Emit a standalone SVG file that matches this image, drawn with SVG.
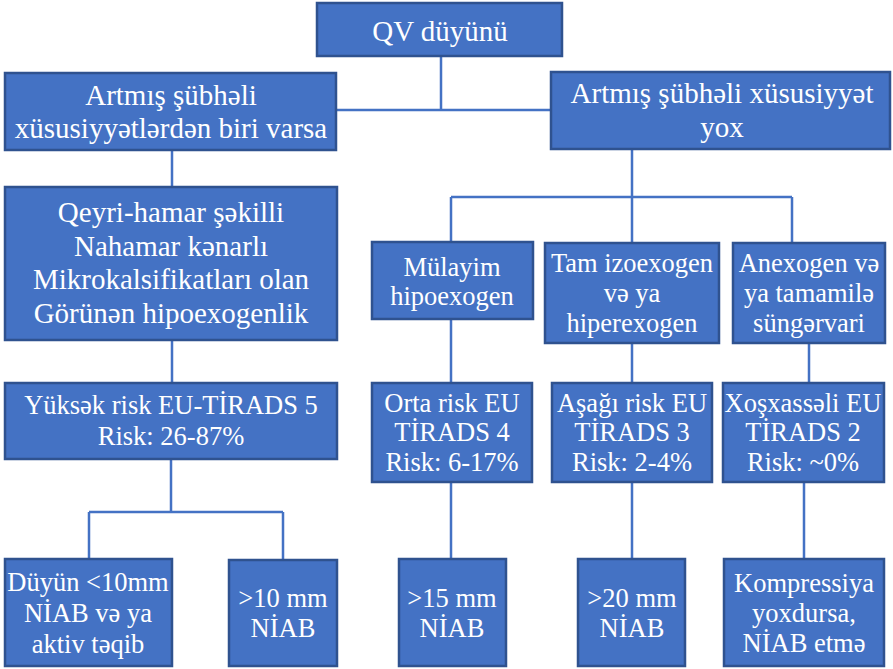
<svg xmlns="http://www.w3.org/2000/svg" width="893" height="669" viewBox="0 0 893 669">
<style>
.box{fill:#4472C4;stroke:#2F528F;stroke-width:2.5}
.t{font-family:"Liberation Serif","Times New Roman",serif;fill:#FFFFFF;text-anchor:middle;font-size:26.5px}
.big{font-size:29px}
.c{fill:none;stroke:#4472C4;stroke-width:2.5}
</style>
<rect width="893" height="669" fill="#FFFFFF"/>
<g id="connectors">
<path class="c" d="M441 56V110M336 110H551"/>
<path class="c" d="M172 150V187M172 340V383"/>
<path class="c" d="M171 459V512M89 512H283M89 512V559M283 512V559"/>
<path class="c" d="M632 149V197M451 197H792M451 197V243M632 197V243M792 197V243"/>
<path class="c" d="M451 319V383M632 343V383M809 343V383"/>
<path class="c" d="M451 482V559M632 482V559M804 482V559"/>
</g>
<g id="n-qv"><rect class="box" x="317" y="3" width="245" height="53"/><text class="t big" x="440" y="41">QV düyünü</text></g>
<g id="n-left"><rect class="box" x="5" y="73" width="331" height="77"/><text class="t big" x="171" y="105">Artmış şübhəli</text><text class="t big" x="171" y="138">xüsusiyyətlərdən biri varsa</text></g>
<g id="n-right"><rect class="box" x="551" y="72" width="339" height="77"/><text class="t big" x="722" y="103">Artmış şübhəli xüsusiyyət</text><text class="t big" x="722" y="137">yox</text></g>
<g id="n-qeyri"><rect class="box" x="5" y="187" width="332" height="153"/><text class="t big" x="171" y="222">Qeyri-hamar şəkilli</text><text class="t big" x="171" y="256">Nahamar kənarlı</text><text class="t big" x="171" y="289">Mikrokalsifikatları olan</text><text class="t big" x="171" y="323">Görünən hipoexogenlik</text></g>
<g id="n-tr5"><rect class="box" x="5" y="383" width="332" height="76"/><text class="t" x="171" y="414">Yüksək risk EU-TİRADS 5</text><text class="t" x="171" y="445">Risk: 26-87%</text></g>
<g id="n-small"><rect class="box" x="5" y="559" width="167" height="107"/><text class="t" x="88" y="591">Düyün &lt;10mm</text><text class="t" x="88" y="622">NİAB və ya</text><text class="t" x="88" y="653">aktiv təqib</text></g>
<g id="n-10mm"><rect class="box" x="229" y="560" width="108" height="106"/><text class="t" x="283" y="607">&gt;10 mm</text><text class="t" x="283" y="637">NİAB</text></g>
<g id="n-mul"><rect class="box" x="372" y="242" width="161" height="77"/><text class="t" x="452" y="276">Mülayim</text><text class="t" x="452" y="305">hipoexogen</text></g>
<g id="n-tam"><rect class="box" x="545" y="243" width="174" height="100"/><text class="t" x="632" y="272">Tam izoexogen</text><text class="t" x="632" y="302">və ya</text><text class="t" x="632" y="332">hiperexogen</text></g>
<g id="n-anex"><rect class="box" x="733" y="243" width="152" height="100"/><text class="t" x="809" y="272">Anexogen və</text><text class="t" x="809" y="302">ya tamamilə</text><text class="t" x="809" y="332">süngərvari</text></g>
<g id="n-tr4"><rect class="box" x="372" y="383" width="160" height="99"/><text class="t" x="452" y="412">Orta risk EU</text><text class="t" x="452" y="441">TİRADS 4</text><text class="t" x="452" y="471">Risk: 6-17%</text></g>
<g id="n-tr3"><rect class="box" x="552" y="383" width="160" height="99"/><text class="t" x="632" y="412">Aşağı risk EU</text><text class="t" x="632" y="441">TİRADS 3</text><text class="t" x="632" y="471">Risk: 2-4%</text></g>
<g id="n-tr2"><rect class="box" x="723" y="383" width="161" height="99"/><text class="t" x="803" y="412">Xoşxassəli EU</text><text class="t" x="803" y="441">TİRADS 2</text><text class="t" x="803" y="471">Risk: ~0%</text></g>
<g id="n-15mm"><rect class="box" x="399" y="559" width="107" height="107"/><text class="t" x="452" y="607">&gt;15 mm</text><text class="t" x="452" y="637">NİAB</text></g>
<g id="n-20mm"><rect class="box" x="578" y="559" width="107" height="107"/><text class="t" x="632" y="607">&gt;20 mm</text><text class="t" x="632" y="637">NİAB</text></g>
<g id="n-komp"><rect class="box" x="724" y="559" width="160" height="107"/><text class="t" x="804" y="592">Kompressiya</text><text class="t" x="804" y="622">yoxdursa,</text><text class="t" x="804" y="652">NİAB etmə</text></g>
</svg>
